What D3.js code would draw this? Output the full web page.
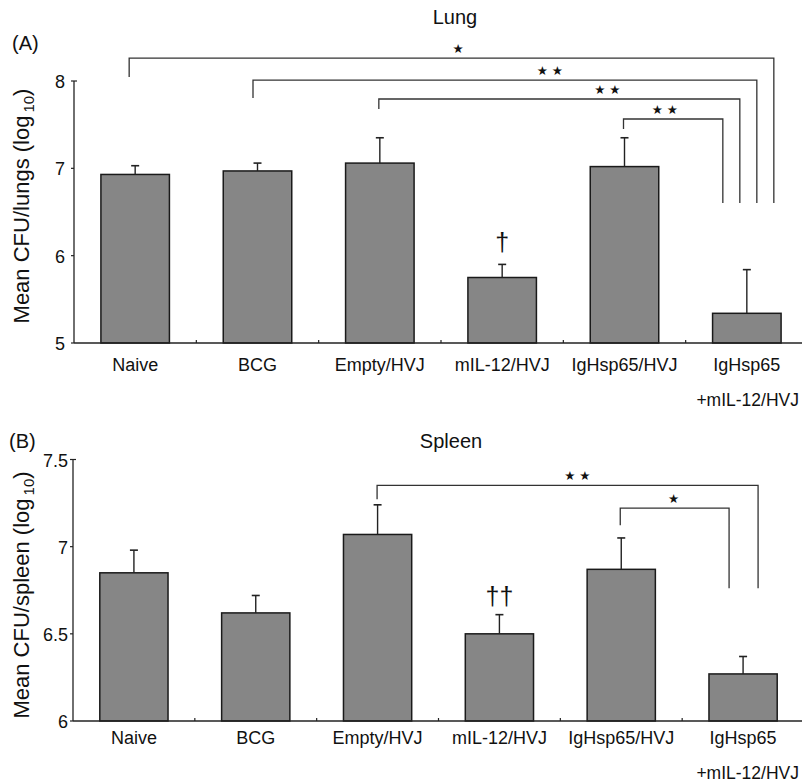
<!DOCTYPE html>
<html>
<head>
<meta charset="utf-8">
<script src="https://cdn.jsdelivr.net/npm/d3@7"></script>
<style>
  html, body { margin: 0; padding: 0; background: #fff; }
  svg { display: block; }
  text { font-family: "Liberation Sans", Arial, Helvetica, sans-serif; fill: #111; }
  .star { font-family: "DejaVu Sans", sans-serif; }
</style>
</head>
<body>
<svg id="chart" width="802" height="784"></svg>
<script>
// ---------- DATA ----------
const categories = ["Naive", "BCG", "Empty/HVJ", "mIL-12/HVJ", "IgHsp65/HVJ", "IgHsp65|+mIL-12/HVJ"];

const lungMeans = [6.93, 6.97, 7.06, 5.75, 7.02, 5.34];
const lungErrors = [0.10, 0.09, 0.29, 0.15, 0.33, 0.50];
const lungMarks = ["", "", "", "\u2020", "", ""];
const lungTicks = [5, 6, 7, 8];

const spleenMeans = [6.85, 6.62, 7.07, 6.50, 6.87, 6.27];
const spleenErrors = [0.13, 0.10, 0.17, 0.11, 0.18, 0.10];
const spleenMarks = ["", "", "", "\u2020\u2020", "", ""];
const spleenTicks = [6, 6.5, 7, 7.5];

// significance comparisons against the last group (levels in data units)
const lungCompFrom   = ["Naive", "BCG", "Empty/HVJ", "IgHsp65/HVJ"];
const lungCompLabel  = ["\u2605", "\u2605 \u2605", "\u2605 \u2605", "\u2605 \u2605"];
const lungCompTop    = [8.263, 8.011, 7.794, 7.565];
const lungCompLeg    = [8.046, 7.805, 7.679, 7.450];
const lungCompEnd    = 6.603;
const lungCompLabelAt = [2.64, 3.39, 3.86, 4.33];

const spleenCompFrom  = ["Empty/HVJ", "IgHsp65/HVJ"];
const spleenCompLabel = ["\u2605 \u2605", "\u2605"];
const spleenCompTop   = [7.352, 7.221];
const spleenCompLeg   = [7.272, 7.123];
const spleenCompEnd   = 6.762;
const spleenCompLabelAt = [3.64, 4.43];

// ---------- DRAW ----------
const svg = d3.select("#chart");

function drawPanel(p) {
  const g = svg.append("g");
  const x = d3.scaleBand().domain(categories).range(p.xRange).padding(0);
  const xi = d3.scaleLinear().domain([0, categories.length - 1])
    .range([x(categories[0]) + x.bandwidth() / 2, x(categories[categories.length - 1]) + x.bandwidth() / 2]);
  const y = d3.scaleLinear().domain(p.yDomain).range(p.yRange);
  const bw = x.bandwidth() * 0.56;
  const cx = c => x(c) + x.bandwidth() / 2;

  // bars
  g.selectAll("rect.bar").data(categories).join("rect")
    .attr("class", "bar")
    .attr("x", c => cx(c) - bw / 2)
    .attr("width", bw)
    .attr("y", (c, i) => y(p.means[i]))
    .attr("height", (c, i) => y(p.yDomain[0]) - y(p.means[i]))
    .attr("fill", "#868686")
    .attr("stroke", "#1a1a1a")
    .attr("stroke-width", 1.5);

  // error bars (upper only)
  const eb = g.selectAll("g.err").data(categories).join("g").attr("class", "err");
  eb.append("line")
    .attr("x1", c => cx(c)).attr("x2", c => cx(c))
    .attr("y1", (c, i) => y(p.means[i]))
    .attr("y2", (c, i) => y(p.means[i] + p.errors[i]))
    .attr("stroke", "#222").attr("stroke-width", 1.4);
  eb.append("line")
    .attr("x1", c => cx(c) - 4).attr("x2", c => cx(c) + 4)
    .attr("y1", (c, i) => y(p.means[i] + p.errors[i]))
    .attr("y2", (c, i) => y(p.means[i] + p.errors[i]))
    .attr("stroke", "#222").attr("stroke-width", 1.6);

  // marks (daggers)
  g.selectAll("text.mark").data(categories).join("text")
    .attr("class", "mark")
    .attr("x", c => cx(c))
    .attr("y", (c, i) => y(p.means[i] + p.errors[i]) - p.markGap)
    .attr("text-anchor", "middle")
    .attr("font-size", 25)
    .text((c, i) => p.marks[i]);

  // y axis
  const y0 = y(p.yDomain[0]), y1 = y(p.yDomain[1]);
  const ax = p.xRange[0];
  g.append("line").attr("x1", ax).attr("x2", ax).attr("y1", y0).attr("y2", y1)
    .attr("stroke", "#222").attr("stroke-width", 1.3);
  g.selectAll("line.ytick").data(p.ticks).join("line").attr("class", "ytick")
    .attr("x1", ax - 3).attr("x2", ax).attr("y1", d => y(d)).attr("y2", d => y(d))
    .attr("stroke", "#222").attr("stroke-width", 1.2);
  g.append("line").attr("x1", ax).attr("x2", ax + 3).attr("y1", y1).attr("y2", y1)
    .attr("stroke", "#222").attr("stroke-width", 1.2);
  g.selectAll("text.ytl").data(p.ticks).join("text").attr("class", "ytl")
    .attr("x", ax - p.tickGap).attr("y", d => y(d) + p.tickDy)
    .attr("text-anchor", "end").attr("font-size", 18)
    .text(d => String(d));

  // x axis
  g.append("line").attr("x1", ax).attr("x2", 802).attr("y1", y0).attr("y2", y0)
    .attr("stroke", "#222").attr("stroke-width", 1.4);
  g.selectAll("line.xtick").data(categories.slice(1)).join("line").attr("class", "xtick")
    .attr("x1", c => x(c)).attr("x2", c => x(c)).attr("y1", y0).attr("y2", y0 - 3)
    .attr("stroke", "#222").attr("stroke-width", 1.2);
  const xl = g.selectAll("text.xl").data(categories).join("text").attr("class", "xl")
    .attr("font-size", 18);
  xl.each(function(c) {
    const lines = c.split("|");
    const t = d3.select(this);
    lines.forEach((ln, k) => {
      t.append("tspan")
        .attr("x", k > 0 ? 799 : cx(c))
        .attr("text-anchor", k > 0 ? "end" : "middle")
        .attr("font-size", k > 0 ? 17.5 : 18)
        .attr("y", p.labelY + k * 35).text(ln);
    });
  });

  // y title
  const yt = g.append("text")
    .attr("transform", `translate(29,${p.titleYCenter}) rotate(-90)`)
    .attr("text-anchor", "middle").attr("font-size", 22);
  yt.append("tspan").text(p.yTitle + " (log");
  yt.append("tspan").attr("font-size", 15).attr("dy", 5).attr("dx", 3).text("10");
  yt.append("tspan").attr("dy", -5).text(")");

  // panel title and letter
  g.append("text").attr("x", p.titleX).attr("y", p.titleY).attr("text-anchor", "middle")
    .attr("font-size", 20).text(p.title);
  g.append("text").attr("x", p.letterX).attr("y", p.letterY).attr("font-size", 20).text(p.letter);

  // significance brackets
  const n = p.compFrom.length;
  const last = categories[categories.length - 1];
  p.compFrom.forEach((from, k) => {
    const rank = n - 1 - k; // outermost first in arrays
    const rx = cx(last) + p.legShift + (rank - (n - 1) / 2) * p.legSpacing;
    const lx = cx(from) + (p.leftShift ? p.leftShift[k] : 0);
    const path = d3.path();
    path.moveTo(lx, y(p.compLeg[k]));
    path.lineTo(lx, y(p.compTop[k]));
    path.lineTo(rx, y(p.compTop[k]));
    path.lineTo(rx, y(p.compEnd));
    g.append("path").attr("d", path.toString())
      .attr("fill", "none").attr("stroke", "#333").attr("stroke-width", 1.3);
    g.append("text").attr("class", "star")
      .attr("x", xi(p.compLabelAt[k])).attr("y", y(p.compTop[k]) - 5)
      .attr("text-anchor", "middle").attr("font-size", 12.5)
      .text(p.compLabel[k]);
  });
}

drawPanel({
  means: lungMeans, errors: lungErrors, marks: lungMarks, ticks: lungTicks,
  xRange: [74, 808], yDomain: [5, 8], yRange: [343, 81],
  markGap: 13, tickGap: 9, tickDy: 7, labelY: 371,
  yTitle: "Mean CFU/lungs", titleYCenter: 206,
  title: "Lung", titleX: 455, titleY: 24, letter: "(A)", letterX: 12, letterY: 50,
  compFrom: lungCompFrom, compLabel: lungCompLabel, compTop: lungCompTop,
  compLeg: lungCompLeg, compEnd: lungCompEnd, compLabelAt: lungCompLabelAt,
  legSpacing: 17, legShift: 1.5, leftShift: [-6, -4.5, -1, -1]
});

drawPanel({
  means: spleenMeans, errors: spleenErrors, marks: spleenMarks, ticks: spleenTicks,
  xRange: [73, 804], yDomain: [6, 7.5], yRange: [721, 459.5],
  markGap: 10, tickGap: 5, tickDy: 7, labelY: 744,
  yTitle: "Mean CFU/spleen", titleYCenter: 595,
  title: "Spleen", titleX: 451, titleY: 448, letter: "(B)", letterX: 9, letterY: 448,
  compFrom: spleenCompFrom, compLabel: spleenCompLabel, compTop: spleenCompTop,
  compLeg: spleenCompLeg, compEnd: spleenCompEnd, compLabelAt: spleenCompLabelAt,
  legSpacing: 29, legShift: 0.5, leftShift: [-0.5, -1]
});
</script>
</body>
</html>
